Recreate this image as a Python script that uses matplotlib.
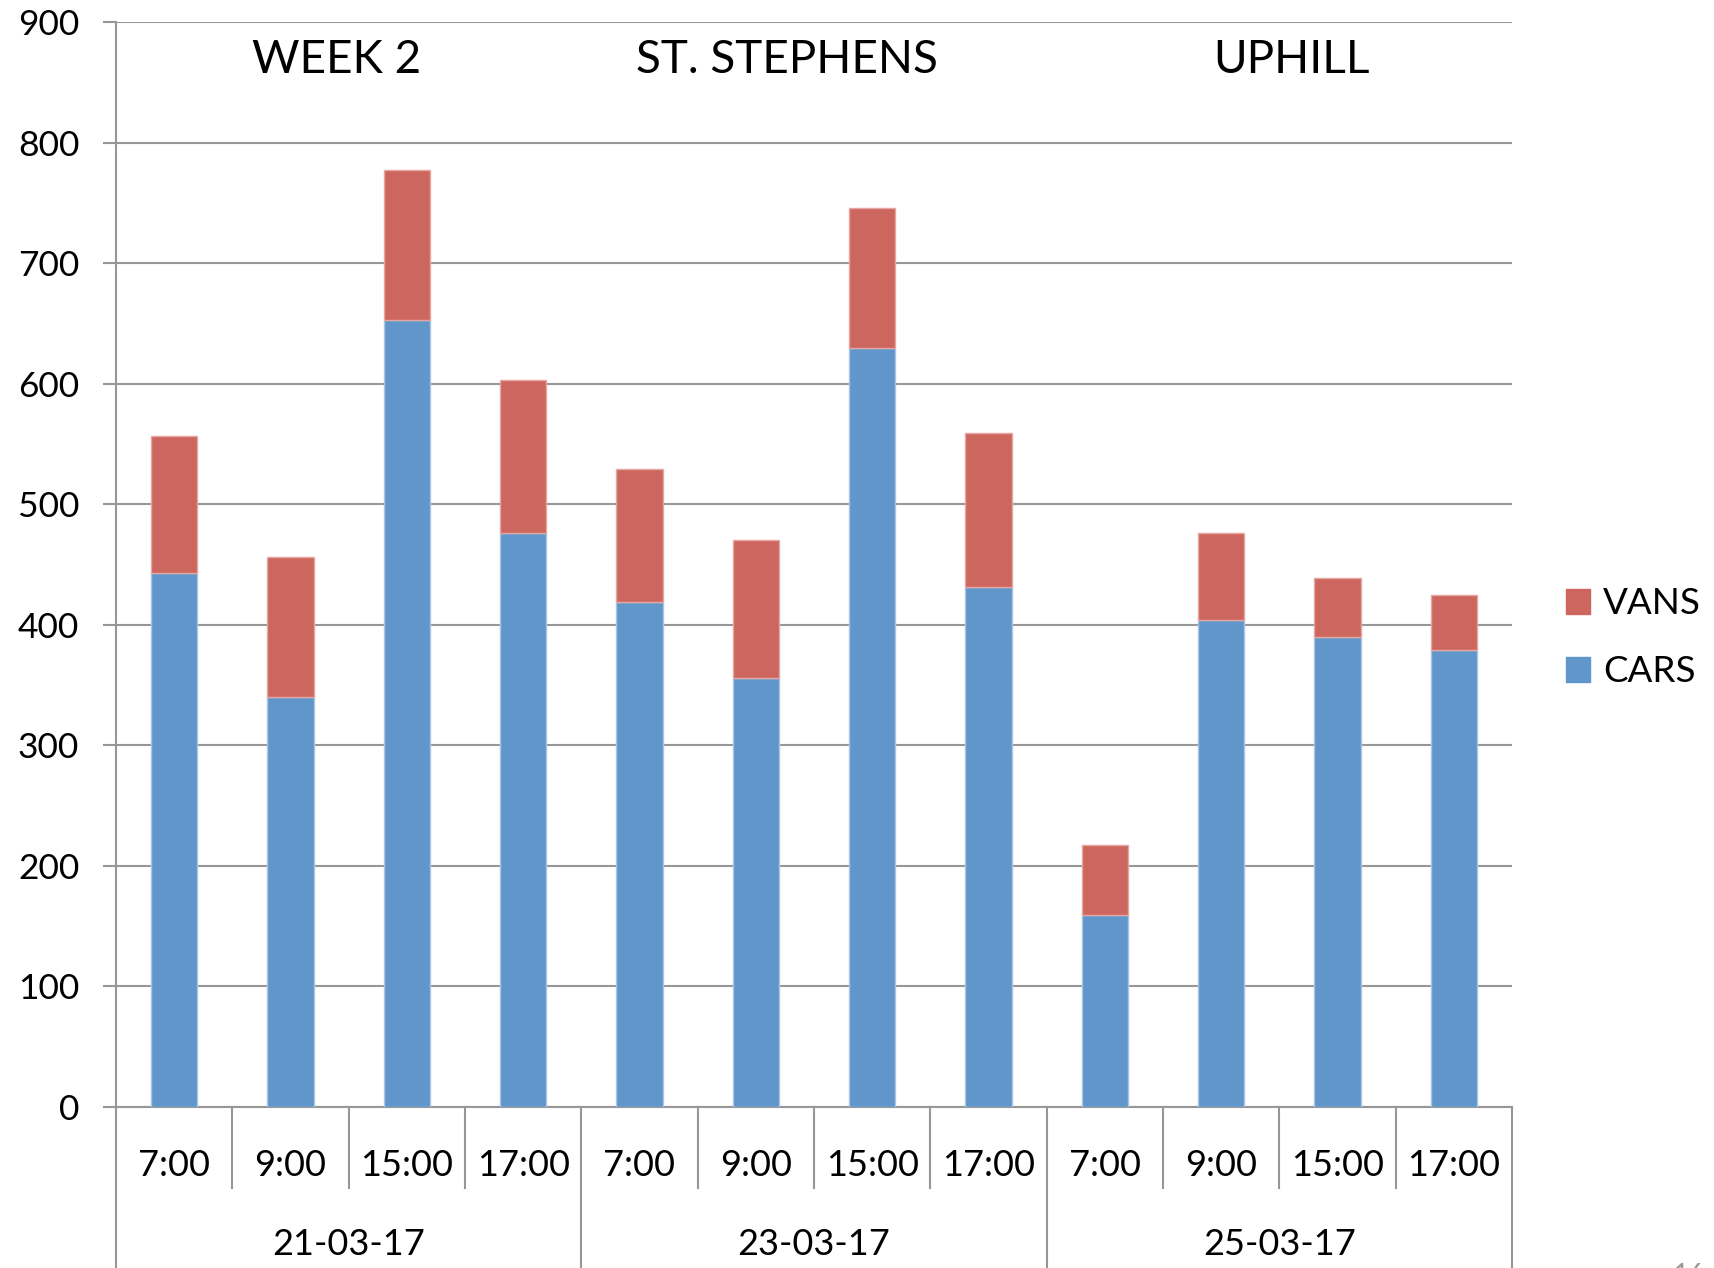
import numpy as np
import matplotlib
matplotlib.use('Agg')
from matplotlib import pyplot as plt
from matplotlib.patches import Patch
from matplotlib.transforms import blended_transform_factory

plt.rcParams['font.family'] = ['Lato', 'DejaVu Sans']

# data
times = ['7:00', '9:00', '15:00', '17:00'] * 3
dates = ['21-03-17', '23-03-17', '25-03-17']
places = ['WEEK 2', 'ST. STEPHENS', 'UPHILL']
cars = [443, 340, 653, 476, 419, 356, 630, 431, 159, 404, 390, 379]
vans = [114, 116, 124, 127, 110, 114, 116, 128, 58, 72, 49, 46]

BLUE = '#6096c9'
RED = '#cd665f'
GREY = '#979797'

fig = plt.figure(figsize=(17.15, 12.68), dpi=100)
ax = fig.add_axes([0.0676, 0.127, 0.814, 0.8556])

x = np.arange(len(cars))
ax.bar(x, cars, width=0.4, color=BLUE, edgecolor='#a8c5e6', linewidth=1, zorder=3)
ax.bar(x, vans, bottom=cars, width=0.4, color=RED, edgecolor='#e6a6a1', linewidth=1, zorder=3)

ax.set_xlim(-0.5, len(cars) - 0.5)
ax.set_ylim(0, 900)
ax.set_yticks(range(0, 901, 100))
ax.yaxis.grid(True, color=GREY, linewidth=1.5, zorder=0)
ax.tick_params(axis='y', direction='out', length=9.5, width=1.5, color=GREY,
               labelsize=25.5, pad=17)
ax.tick_params(axis='x', bottom=False, labelbottom=False)
for s in ['top', 'right']:
    ax.spines[s].set_visible(False)
for s in ['left', 'bottom']:
    ax.spines[s].set_color(GREY)
    ax.spines[s].set_linewidth(1.5)

# two-level category axis
trans = blended_transform_factory(ax.transData, ax.transAxes)
for i in range(len(cars) + 1):
    edge = i - 0.5
    y_end = -0.148 if i % 4 == 0 else -0.0745
    ax.plot([edge, edge], [0, y_end], color=GREY, linewidth=1.5,
            transform=trans, clip_on=False)
for i, t in enumerate(times):
    ax.text(i, -0.0535, t, transform=trans, ha='center', va='center', fontsize=26)
for g, d in enumerate(dates):
    ax.text(g * 4 + 1.5, -0.127, d, transform=trans, ha='center', va='center', fontsize=26)

for xpos, p in zip([0.158, 0.481, 0.842], places):
    ax.text(xpos, 0.965, p, transform=ax.transAxes, ha='center', va='center', fontsize=33)

handles = [Patch(color=RED), Patch(color=BLUE)]
fig.legend(handles, ['VANS', 'CARS'], loc='center left', bbox_to_anchor=(0.9025, 0.497),
           frameon=False, fontsize=26.5, handlelength=0.65, handleheight=0.65,
           handletextpad=0.35, labelspacing=0.95, borderpad=0)

fig.text(0.985, 0.004, '16', color='#999999', fontsize=20, ha='center', va='top')

fig.savefig('out.png', dpi=100)
